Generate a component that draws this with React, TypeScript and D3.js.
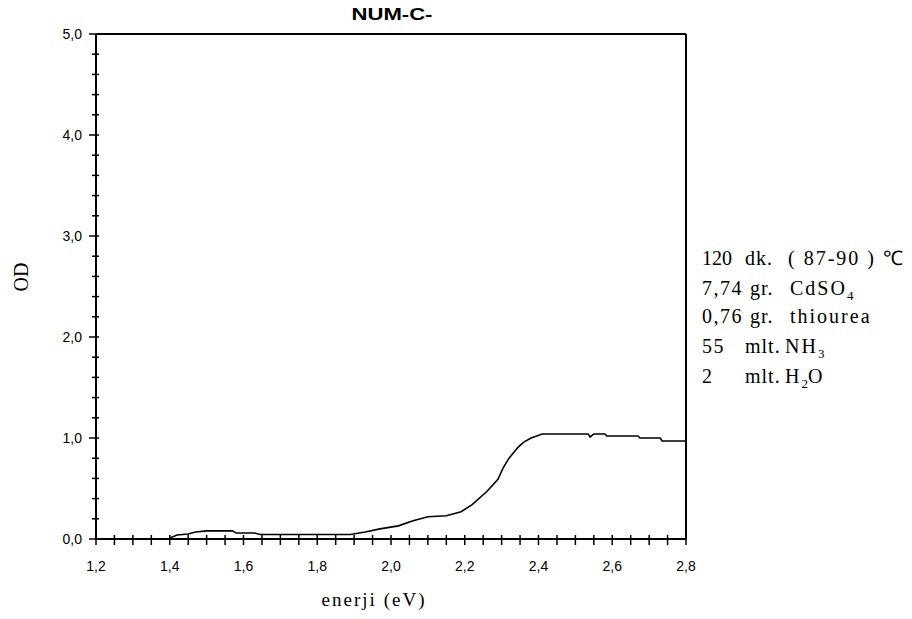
import React from "react";
import * as d3 from "d3";

const energy = [1.40, 1.42, 1.45, 1.47, 1.50, 1.57, 1.58, 1.63, 1.645, 1.89, 1.93, 1.97, 2.02, 2.06, 2.10, 2.15, 2.19, 2.22, 2.26, 2.29, 2.305, 2.32, 2.345, 2.36, 2.38, 2.41, 2.535, 2.54, 2.55, 2.58, 2.585, 2.67, 2.675, 2.73, 2.735, 2.80];
const od = [0.01, 0.04, 0.05, 0.07, 0.08, 0.08, 0.06, 0.06, 0.045, 0.045, 0.07, 0.10, 0.13, 0.18, 0.22, 0.23, 0.27, 0.34, 0.47, 0.59, 0.71, 0.80, 0.91, 0.96, 1.00, 1.04, 1.04, 1.01, 1.04, 1.04, 1.02, 1.02, 1.00, 1.00, 0.97, 0.97];

const yMajorTicks = [0, 1, 2, 3, 4, 5];
const xMajorTicks = [1.2, 1.4, 1.6, 1.8, 2.0, 2.2, 2.4, 2.6, 2.8];

const title = "NUM-C-";
const xLabel = "enerji (eV)";
const yLabel = "OD";

const noteAmount = ["120", "7,74", "0,76", "55", "2"];
const noteUnit = ["dk.", "gr.", "gr.", "mlt.", "mlt."];
const noteSubstance = ["( 87-90 ) \u2103", "CdSO", "thiourea", "NH", "H"];
const noteSub = ["", "4", "", "3", "2"];
const noteTail = ["", "", "", "", "O"];

const W = 912;
const H = 619;
const left = 96, right = 686, top = 34, bottom = 539;

export default function App() {
  const x = d3.scaleLinear().domain([1.2, 2.8]).range([left, right]);
  const y = d3.scaleLinear().domain([0, 5]).range([bottom, top]);
  const data = energy.map((e, i) => [e, od[i]] as [number, number]);
  const line = d3.line<[number, number]>().x(d => x(d[0])).y(d => y(d[1]));
  const fmt = (v: number) => v.toFixed(1).replace(".", ",");

  const yMinor = d3.range(0, 5.0001, 0.2);
  const xMinor = d3.range(1.2, 2.8001, 0.05);

  const col2 = [745, 750, 750, 745, 745];
  const col3 = [788, 790, 790, 785, 785];
  const noteY = [265, 295, 323, 353, 383];
  const serif = "Liberation Serif, Times New Roman, serif";
  const sans = "Liberation Sans, Arial, sans-serif";

  return (
    <svg width={W} height={H} style={{ position: "absolute", left: 0, top: 0, background: "#fff" }}>
      <rect x={0} y={0} width={W} height={H} fill="#fff" />
      <text x={392} y={20} textAnchor="middle" fontFamily={sans} fontWeight="bold" fontSize={17} textLength={81} lengthAdjust="spacingAndGlyphs">{title}</text>

      <line x1={left} x2={right} y1={top} y2={top} stroke="#000" strokeWidth={2} />
      <line x1={right} x2={right} y1={top} y2={bottom} stroke="#000" strokeWidth={2} />
      <line x1={left} x2={left} y1={top} y2={bottom} stroke="#000" strokeWidth={2} />
      <line x1={left} x2={right} y1={bottom} y2={bottom} stroke="#000" strokeWidth={2} />

      {yMinor.map((v, i) => {
        const major = Math.abs(v - Math.round(v)) < 1e-6;
        return <line key={"ym" + i} x1={left - (major ? 7 : 4)} x2={left + 3} y1={y(v)} y2={y(v)} stroke="#000" strokeWidth={1.5} />;
      })}
      {xMinor.map((v, i) => (
        <line key={"xm" + i} x1={x(v)} x2={x(v)} y1={bottom - 4} y2={bottom + 6} stroke="#000" strokeWidth={1.5} />
      ))}

      {yMajorTicks.map(v => (
        <text key={"yl" + v} x={82} y={y(v)} dy="0.36em" textAnchor="end" fontFamily={sans} fontSize={14}>{fmt(v)}</text>
      ))}
      {xMajorTicks.map(v => (
        <text key={"xl" + v} x={x(v)} y={571} textAnchor="middle" fontFamily={sans} fontSize={14}>{fmt(v)}</text>
      ))}

      <path d={line(data) || ""} fill="none" stroke="#000" strokeWidth={1.6} />

      <text x={373} y={606} textAnchor="middle" fontFamily={serif} fontSize={19} textLength={103} lengthAdjust="spacing">{xLabel}</text>
      <text transform="translate(28,277) rotate(-90)" textAnchor="middle" fontFamily={serif} fontSize={20}>{yLabel}</text>

      {noteAmount.map((a, i) => (
        <text key={"n" + i} y={noteY[i]} fontFamily={serif} fontSize={20} fill="#000">
          <tspan x={702} letterSpacing={i === 0 ? 0 : 1.5}>{a}</tspan>
          <tspan x={col2[i]} letterSpacing={1}>{noteUnit[i]}</tspan>
          <tspan x={col3[i]} letterSpacing={2}>{noteSubstance[i]}</tspan>
          {noteSub[i] ? <tspan dy={5} fontSize={13}>{noteSub[i]}</tspan> : null}
          {noteTail[i] ? <tspan dy={-5} letterSpacing={2}>{noteTail[i]}</tspan> : null}
        </text>
      ))}
    </svg>
  );
}
